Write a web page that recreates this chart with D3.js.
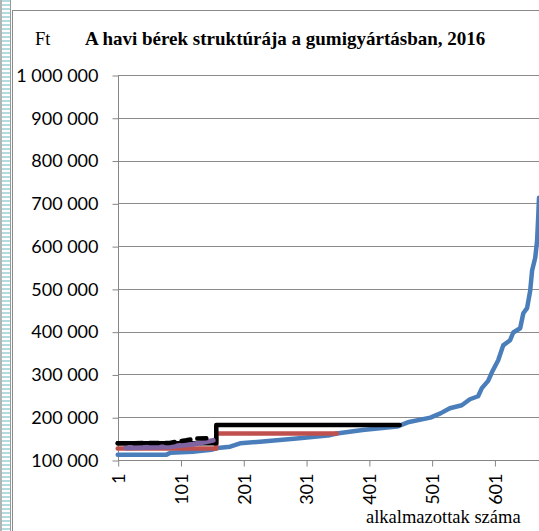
<!DOCTYPE html>
<html>
<head>
<meta charset="utf-8">
<script src="https://cdn.jsdelivr.net/npm/d3@7"></script>
<style>
  body { margin: 0; background: #fff; }
  svg { display: block; }
</style>
</head>
<body>
<script>
var width = 539;
var height = 531;

// y axis ticks (Ft)
var yTicks = [100000, 200000, 300000, 400000, 500000, 600000, 700000, 800000, 900000, 1000000];
// x axis ticks (employee rank)
var xTicks = [1, 101, 201, 301, 401, 501, 601];

// sorted monthly wages (blue)
var wageRank = [1, 78, 85, 120, 150, 160, 180, 196, 232, 286, 339, 350, 391, 446, 451, 465, 499, 515, 530, 549, 562, 575, 581, 591, 597, 607, 615, 626, 631, 642, 647, 653, 658, 661, 666, 669, 671, 672];
var wageValue = [112000, 112000, 117000, 119000, 124000, 128000, 131000, 139000, 143000, 150000, 158000, 162000, 170000, 178000, 181000, 189000, 199000, 209000, 221000, 228000, 242000, 249000, 268000, 285000, 305000, 333000, 368000, 380000, 398000, 408000, 443000, 455000, 496000, 543000, 573000, 613000, 676000, 713000];

// red step
var redRank = [1, 158, 350];
var redValue = [127000, 162000, 162000];

// black step (solid)
var blackRank = [1, 158, 450];
var blackValue = [139000, 182000, 182000];

// purple
var purpleRank = [14, 40, 84, 100, 121, 140, 153];
var purpleValue = [128000, 129000, 131000, 134000, 137000, 142000, 146000];

// black dashed
var dashRank = [1, 84, 95, 110, 125, 145];
var dashValue = [139000, 140000, 143000, 146000, 150000, 151000];

var svg = d3.select("body").append("svg")
    .attr("width", width)
    .attr("height", height);

// left striped strip + frame
var defs = svg.append("defs");
var pat = defs.append("pattern")
    .attr("id", "stripes")
    .attr("patternUnits", "userSpaceOnUse")
    .attr("width", 8).attr("height", 4);
pat.append("rect").attr("width", 8).attr("height", 4).attr("fill", "#fff");
pat.append("rect").attr("width", 8).attr("height", 2).attr("fill", "#b3dbe0");

svg.append("rect").attr("x", 2).attr("y", 0).attr("width", 8).attr("height", height).attr("fill", "url(#stripes)");
svg.append("line").attr("x1", 1).attr("x2", 1).attr("y1", 0).attr("y2", height).attr("stroke", "#9a9a9a").attr("stroke-width", 1.5);
svg.append("line").attr("x1", 10.5).attr("x2", 10.5).attr("y1", 0).attr("y2", height).attr("stroke", "#9a9a9a").attr("stroke-width", 1);
svg.append("line").attr("x1", 12.5).attr("x2", 12.5).attr("y1", 10).attr("y2", height).attr("stroke", "#8a8a8a").attr("stroke-width", 1);
svg.append("line").attr("x1", 12).attr("x2", width).attr("y1", 10.5).attr("y2", 10.5).attr("stroke", "#8a8a8a").attr("stroke-width", 1);

// scales
var x = d3.scaleLinear().domain([1, 672]).range([117.7, 539]);
var y = d3.scaleLinear().domain([100000, 1000000]).range([460, 75]);

var fmt = d3.formatLocale({ decimal: ",", thousands: " ", grouping: [3], currency: ["", ""] }).format(",");

// gridlines
svg.append("g").selectAll("line")
    .data(yTicks.slice(1))
    .enter().append("line")
    .attr("x1", 118).attr("x2", width)
    .attr("y1", function(d) { return Math.round(y(d)) + 0.5; })
    .attr("y2", function(d) { return Math.round(y(d)) + 0.5; })
    .attr("stroke", "#8c8c8c");

// y axis
var yAxis = svg.append("g")
    .attr("transform", "translate(118.5,0.5)")
    .call(d3.axisLeft(y).tickValues(yTicks).tickFormat(fmt).tickSize(6).tickPadding(14));
yAxis.selectAll("text")
    .attr("font-family", "Lato, sans-serif")
    .attr("font-size", 18)
    .attr("fill", "#000");
yAxis.selectAll("line, path").attr("stroke", "#868686");
yAxis.select(".domain").attr("d", "M0," + y(100000) + "V" + y(1000000)).attr("stroke", "#868686");

// x axis
var xAxis = svg.append("g")
    .attr("transform", "translate(0.5," + (y(100000) + 0.5) + ")")
    .call(d3.axisBottom(x).tickValues(xTicks).tickSize(6).tickFormat(d3.format("d")));
xAxis.selectAll("line").attr("stroke", "#868686");
xAxis.select(".domain").attr("d", "M" + x(1) + ",0H" + width).attr("stroke", "#868686");
xAxis.selectAll("text")
    .attr("font-family", "Lato, sans-serif")
    .attr("font-size", 18)
    .attr("fill", "#000")
    .attr("text-anchor", "end")
    .attr("transform", "rotate(-90)")
    .attr("x", -13)
    .attr("y", 0)
    .attr("dy", "0.35em");

// lines
function toPoints(rank, value) {
    return rank.map(function(r, i) { return [r, value[i]]; });
}
var line = d3.line()
    .x(function(d) { return x(d[0]); })
    .y(function(d) { return y(d[1]); });
var stepLine = d3.line()
    .x(function(d) { return x(d[0]); })
    .y(function(d) { return y(d[1]); })
    .curve(d3.curveStepAfter);

var series = [
    { pts: toPoints(wageRank, wageValue), gen: line, color: "#4a7ebb", w: 4.5 },
    { pts: toPoints(redRank, redValue), gen: stepLine, color: "#c0504d", w: 4.5 },
    { pts: toPoints(blackRank, blackValue), gen: stepLine, color: "#000000", w: 4.5 },
    { pts: toPoints(purpleRank, purpleValue), gen: line, color: "#8064a2", w: 5 },
    { pts: toPoints(dashRank, dashValue), gen: line, color: "#000000", w: 4.5, dash: "9,7" }
];

svg.append("g").selectAll("path")
    .data(series)
    .enter().append("path")
    .attr("d", function(d) { return d.gen(d.pts); })
    .attr("fill", "none")
    .attr("stroke", function(d) { return d.color; })
    .attr("stroke-width", function(d) { return d.w; })
    .attr("stroke-linejoin", "round")
    .attr("stroke-linecap", "round")
    .attr("stroke-dasharray", function(d) { return d.dash || null; });

// titles
var serif = "'Liberation Serif', 'Times New Roman', serif";
svg.append("text")
    .attr("x", 35).attr("y", 45)
    .attr("font-family", serif)
    .attr("font-size", 18.5)
    .text("Ft");
svg.append("text")
    .attr("x", 85).attr("y", 45)
    .attr("font-family", serif)
    .attr("font-size", 19)
    .attr("font-weight", "bold")
    .text("A havi bérek struktúrája a gumigyártásban, 2016");
svg.append("text")
    .attr("x", 366).attr("y", 523)
    .attr("font-family", serif)
    .attr("font-size", 18.5)
    .text("alkalmazottak száma");
</script>
</body>
</html>
